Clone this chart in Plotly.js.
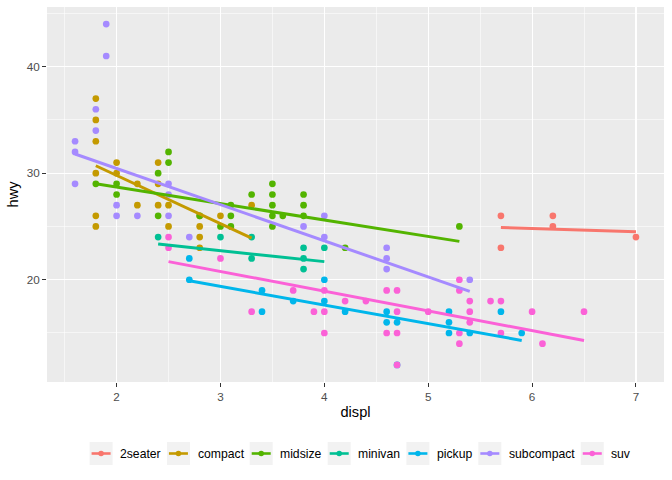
<!DOCTYPE html>
<html>
<head>
<meta charset="utf-8">
<script src="https://cdn.plot.ly/plotly-3.0.1.min.js"></script>
<style>
  html, body { margin: 0; padding: 0; background: #ffffff; }
  #plot { width: 672px; height: 480px; }
</style>
</head>
<body>
<div id="plot"></div>
<script>
// classes in legend order
const classes = ["2seater", "compact", "midsize", "minivan", "pickup", "subcompact", "suv"];

// distinct (displ, hwy) points, per class
const displ_2seater = [5.7, 5.7, 6.2, 6.2, 7.0];
const hwy_2seater = [26, 23, 26, 25, 24];

const displ_compact = [1.8, 1.8, 1.8, 1.8, 1.8, 1.8, 2.0, 2.0, 2.2, 2.2, 2.4, 2.4, 2.4, 2.5, 2.5, 2.8, 2.8, 2.8, 2.8, 3.0, 3.3];
const hwy_compact = [37, 35, 33, 30, 26, 25, 31, 30, 29, 27, 31, 29, 27, 27, 25, 26, 25, 24, 23, 26, 27];

const displ_midsize = [1.8, 2.0, 2.0, 2.4, 2.4, 2.5, 2.5, 2.8, 3.0, 3.1, 3.1, 3.1, 3.3, 3.5, 3.5, 3.5, 3.5, 3.5, 3.6, 3.8, 3.8, 3.8, 4.2, 5.3];
const hwy_midsize = [29, 29, 28, 30, 26, 32, 31, 26, 25, 27, 26, 25, 28, 29, 28, 27, 26, 25, 26, 28, 27, 26, 23, 25];

const displ_minivan = [2.4, 3.0, 3.3, 3.3, 3.8, 3.8, 3.8, 4.0];
const hwy_minivan = [24, 24, 24, 22, 23, 22, 21, 23];

const displ_pickup = [2.7, 2.7, 3.4, 3.4, 3.7, 4.0, 4.0, 4.2, 4.6, 4.6, 4.7, 4.7, 5.2, 5.2, 5.2, 5.4, 5.7, 5.9];
const hwy_pickup = [22, 20, 19, 17, 18, 20, 18, 17, 17, 16, 16, 12, 17, 16, 15, 15, 17, 15];

const displ_subcompact = [1.6, 1.6, 1.6, 1.8, 1.8, 1.9, 1.9, 2.0, 2.0, 2.2, 2.5, 2.5, 2.5, 2.7, 3.8, 4.0, 4.0, 4.6, 4.6, 4.6, 5.4];
const hwy_subcompact = [33, 32, 29, 36, 34, 44, 41, 27, 26, 26, 29, 28, 26, 24, 25, 26, 24, 23, 22, 21, 20];

const displ_suv = [2.5, 2.5, 3.0, 3.3, 3.7, 3.9, 4.0, 4.0, 4.0, 4.2, 4.4, 4.6, 4.6, 4.7, 4.7, 4.7, 4.7, 5.0, 5.3, 5.3, 5.3, 5.3, 5.4, 5.4, 5.4, 5.6, 5.7, 5.7, 6.0, 6.1, 6.5];
const hwy_suv = [24, 23, 22, 17, 19, 17, 19, 17, 15, 18, 18, 19, 15, 19, 17, 15, 12, 17, 20, 19, 15, 14, 18, 17, 16, 18, 18, 15, 17, 14, 17];

// fitted lm line values at each class's smallest and largest displ
const fitHwyStart = [24.9, 30.7, 29.0, 23.35, 19.9, 31.8, 21.7];
const fitHwyEnd = [24.5, 23.9, 23.6, 21.7, 14.3, 18.9, 14.3];

// axis ticks
const xTicks = [2, 3, 4, 5, 6, 7];
const yTicks = [20, 30, 40];

const displByClass = [displ_2seater, displ_compact, displ_midsize, displ_minivan, displ_pickup, displ_subcompact, displ_suv];
const hwyByClass = [hwy_2seater, hwy_compact, hwy_midsize, hwy_minivan, hwy_pickup, hwy_subcompact, hwy_suv];
const palette = ["#F8766D", "#C49A00", "#53B400", "#00C094", "#00B6EB", "#A58AFF", "#FB61D7"];

const FONT = "Liberation Sans, Arial, sans-serif";
const W = 672, H = 480;
const M = { l: 47, r: 8, t: 7, b: 98 };
const LEGEND_FONT = 12.2;

// pixel -> paper helpers (for the ggplot-style legend under the panel)
const px2x = (px) => (px - M.l) / (W - M.l - M.r);
const px2y = (py) => (H - M.b - py) / (H - M.t - M.b);

function textWidth(s, size) {
  const ctx = document.createElement("canvas").getContext("2d");
  ctx.font = `${size}px "Liberation Sans", Arial, sans-serif`;
  return ctx.measureText(s).width;
}

function buildTraces() {
  const traces = [];

  // points first, like geom_point
  classes.forEach((c, i) => {
    traces.push({
      type: "scatter",
      mode: "markers",
      x: displByClass[i],
      y: hwyByClass[i],
      name: c,
      showlegend: false,
      marker: { size: 6.7, color: palette[i] },
      hoverinfo: "skip",
    });
  });

  // then the lm lines
  classes.forEach((c, i) => {
    const xs = displByClass[i];
    traces.push({
      type: "scatter",
      mode: "lines",
      x: [Math.min(...xs), Math.max(...xs)],
      y: [fitHwyStart[i], fitHwyEnd[i]],
      name: c,
      showlegend: false,
      line: { color: palette[i], width: 3 },
      hoverinfo: "skip",
    });
  });

  return traces;
}

// legend drawn like ggplot: grey key boxes with a line + dot, then the label
function buildLegend() {
  const shapes = [];
  const annotations = [];
  const key = 23, keyGap = 6.7, itemGap = 7;
  const cy = 453.5;
  const widths = classes.map((c) => textWidth(c, LEGEND_FONT));
  const total = classes.length * (key + keyGap) + (classes.length - 1) * itemGap + widths.reduce((a, b) => a + b, 0);
  let x = 359.5 - total / 2;

  classes.forEach((c, i) => {
    shapes.push({
      type: "rect", xref: "paper", yref: "paper", layer: "below",
      x0: px2x(x), x1: px2x(x + key), y0: px2y(cy + key / 2), y1: px2y(cy - key / 2),
      fillcolor: "#F2F2F2", line: { width: 0 },
    });
    shapes.push({
      type: "line", xref: "paper", yref: "paper",
      x0: px2x(x + 2), x1: px2x(x + key - 2), y0: px2y(cy), y1: px2y(cy),
      line: { color: palette[i], width: 2.6 },
    });
    shapes.push({
      type: "circle", xref: "paper", yref: "paper",
      x0: px2x(x + key / 2 - 2.8), x1: px2x(x + key / 2 + 2.8),
      y0: px2y(cy + 2.8), y1: px2y(cy - 2.8),
      fillcolor: palette[i], line: { width: 0 },
    });
    annotations.push({
      xref: "paper", yref: "paper", showarrow: false,
      x: px2x(x + key + keyGap - 1), y: px2y(cy),
      xanchor: "left", yanchor: "middle",
      text: c,
      font: { family: FONT, size: LEGEND_FONT, color: "#000000" },
    });
    x += key + keyGap + widths[i] + itemGap;
  });

  return { shapes, annotations };
}

function buildLayout() {
  const axisCommon = {
    showline: false,
    zeroline: false,
    automargin: true,
    gridcolor: "#ffffff",
    gridwidth: 1.1,
    ticks: "outside",
    ticklen: 4,
    tickwidth: 1,
    tickcolor: "#333333",
    tickfont: { family: FONT, size: 11.7, color: "#4D4D4D" },
  };
  const legend = buildLegend();
  return {
    width: W,
    height: H,
    paper_bgcolor: "#ffffff",
    plot_bgcolor: "#EBEBEB",
    margin: M,
    showlegend: false,
    xaxis: {
      ...axisCommon,
      range: [1.33, 7.27],
      tickvals: xTicks,
      ticktext: xTicks.map(String),
      minor: { tick0: 1.5, dtick: 1, gridcolor: "#ffffff", gridwidth: 0.55, ticks: "" },
      title: { text: "displ", font: { family: FONT, size: 14.6, color: "#000000" }, standoff: 4 },
    },
    yaxis: {
      ...axisCommon,
      range: [10.4, 45.6],
      tickvals: yTicks,
      ticktext: yTicks.map(String),
      minor: { tick0: 15, dtick: 10, gridcolor: "#ffffff", gridwidth: 0.55, ticks: "" },
      title: { text: "hwy", font: { family: FONT, size: 14.6, color: "#000000" }, standoff: 4 },
    },
    shapes: legend.shapes,
    annotations: legend.annotations,
  };
}

Plotly.newPlot("plot", buildTraces(), buildLayout(), { staticPlot: true });
</script>
</body>
</html>
